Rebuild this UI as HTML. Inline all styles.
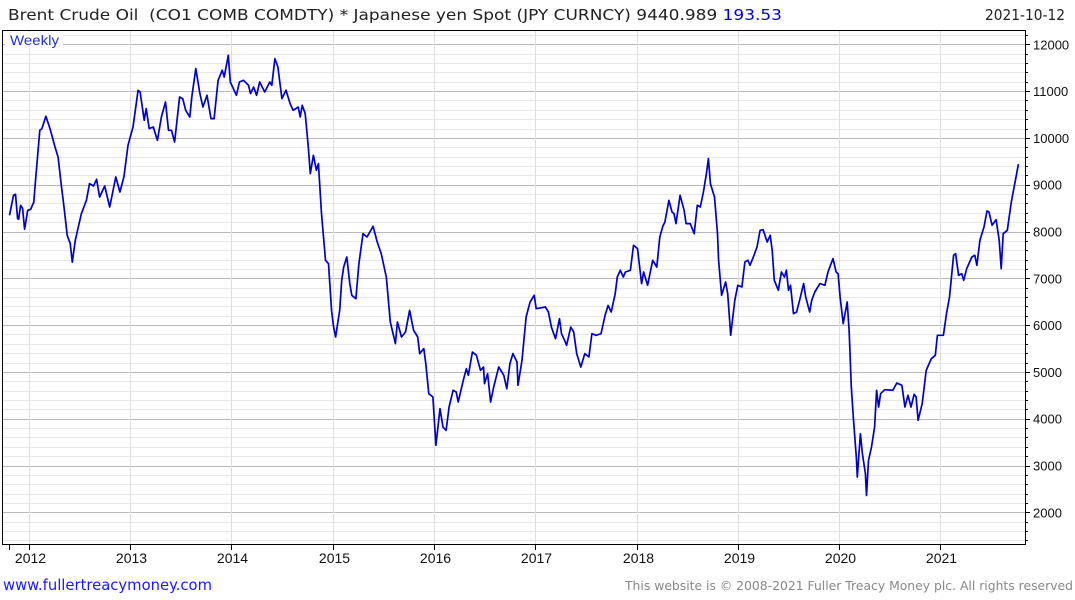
<!DOCTYPE html>
<html><head><meta charset="utf-8"><style>
body{margin:0;background:#fff;font-family:"Liberation Sans",sans-serif;}
#wrap{position:relative;width:1075px;height:600px;overflow:hidden;}
</style></head><body>
<div id="wrap">
<svg id="chart" width="1075" height="600" xmlns="http://www.w3.org/2000/svg">
<g id="grid"></g>
<rect x="2.5" y="30.5" width="1023" height="514" fill="none" stroke="#000" stroke-width="1"/>
<g id="axes"></g>
<path id="line" fill="none" stroke="#0000cc" stroke-width="1.7" stroke-linejoin="round"/>
<rect x="5" y="32" width="58" height="16" fill="#fff"/>
<text x="10" y="45" font-size="14" fill="#2233cc" textLength="49" lengthAdjust="spacingAndGlyphs">Weekly</text>
<text x="8" y="20" font-size="15.5" fill="#222" font-family="DejaVu Sans, sans-serif" textLength="774" lengthAdjust="spacingAndGlyphs" xml:space="preserve">Brent Crude Oil  (CO1 COMB COMDTY) * Japanese yen Spot (JPY CURNCY) 9440.989 <tspan fill="#0000dd">193.53</tspan></text>
<text x="985" y="20" font-size="15" fill="#222" font-family="DejaVu Sans, sans-serif" textLength="80" lengthAdjust="spacingAndGlyphs">2021-10-12</text>
<text x="3" y="590" font-size="15" fill="#1a1aff" font-family="DejaVu Sans, sans-serif" textLength="209" lengthAdjust="spacingAndGlyphs">www.fullertreacymoney.com</text>
<text x="625" y="590" font-size="12.5" fill="#888" font-family="DejaVu Sans, sans-serif" textLength="448" lengthAdjust="spacingAndGlyphs">This website is © 2008-2021 Fuller Treacy Money plc. All rights reserved</text>
</svg>
</div>
<script>
const dates=[2011.81,2011.85,2011.87,2011.89,2011.90,2011.92,2011.94,2011.96,2011.99,2012.02,2012.05,2012.07,2012.11,2012.13,2012.17,2012.21,2012.26,2012.29,2012.32,2012.35,2012.38,2012.41,2012.43,2012.46,2012.49,2012.52,2012.57,2012.60,2012.64,2012.67,2012.70,2012.75,2012.80,2012.86,2012.90,2012.94,2012.98,2013.03,2013.08,2013.10,2013.14,2013.16,2013.19,2013.23,2013.27,2013.31,2013.35,2013.38,2013.41,2013.44,2013.49,2013.52,2013.55,2013.59,2013.61,2013.65,2013.69,2013.72,2013.76,2013.80,2013.83,2013.87,2013.91,2013.93,2013.97,2013.99,2014.05,2014.08,2014.12,2014.17,2014.19,2014.22,2014.25,2014.28,2014.33,2014.38,2014.40,2014.43,2014.46,2014.50,2014.54,2014.58,2014.61,2014.66,2014.68,2014.70,2014.73,2014.76,2014.78,2014.81,2014.84,2014.86,2014.89,2014.93,2014.96,2014.99,2015.01,2015.03,2015.07,2015.09,2015.11,2015.14,2015.17,2015.19,2015.23,2015.26,2015.30,2015.34,2015.40,2015.44,2015.48,2015.53,2015.57,2015.62,2015.64,2015.68,2015.72,2015.76,2015.80,2015.84,2015.86,2015.90,2015.92,2015.95,2015.99,2016.02,2016.06,2016.09,2016.12,2016.15,2016.19,2016.22,2016.24,2016.29,2016.32,2016.34,2016.38,2016.42,2016.46,2016.49,2016.50,2016.53,2016.56,2016.59,2016.64,2016.69,2016.72,2016.75,2016.78,2016.82,2016.83,2016.87,2016.91,2016.95,2016.99,2017.01,2017.10,2017.13,2017.16,2017.20,2017.24,2017.26,2017.29,2017.31,2017.35,2017.38,2017.41,2017.45,2017.49,2017.53,2017.56,2017.60,2017.65,2017.69,2017.72,2017.75,2017.79,2017.81,2017.84,2017.87,2017.89,2017.94,2017.97,2018.01,2018.05,2018.07,2018.11,2018.16,2018.20,2018.23,2018.26,2018.28,2018.32,2018.35,2018.37,2018.39,2018.43,2018.47,2018.49,2018.53,2018.57,2018.60,2018.63,2018.66,2018.69,2018.71,2018.73,2018.77,2018.80,2018.81,2018.84,2018.88,2018.90,2018.93,2018.97,2019.00,2019.04,2019.07,2019.10,2019.12,2019.16,2019.19,2019.22,2019.25,2019.29,2019.32,2019.34,2019.36,2019.40,2019.43,2019.46,2019.48,2019.50,2019.52,2019.55,2019.58,2019.61,2019.65,2019.67,2019.71,2019.73,2019.76,2019.81,2019.86,2019.89,2019.94,2019.97,2019.99,2020.01,2020.04,2020.08,2020.10,2020.12,2020.14,2020.17,2020.18,2020.21,2020.23,2020.26,2020.27,2020.29,2020.32,2020.35,2020.37,2020.39,2020.41,2020.45,2020.53,2020.57,2020.62,2020.65,2020.68,2020.71,2020.74,2020.76,2020.78,2020.82,2020.86,2020.91,2020.95,2020.97,2021.03,2021.06,2021.09,2021.13,2021.15,2021.18,2021.21,2021.23,2021.26,2021.31,2021.34,2021.36,2021.39,2021.43,2021.46,2021.48,2021.51,2021.55,2021.58,2021.60,2021.62,2021.66,2021.70,2021.74,2021.77];
const values=[8346,8773,8795,8275,8260,8560,8489,8047,8453,8474,8630,9164,10162,10198,10461,10198,9806,9590,9023,8489,7918,7741,7347,7811,8096,8382,8666,9023,8972,9115,8737,8972,8523,9164,8843,9164,9842,10233,11017,10981,10376,10626,10198,10233,9948,10446,10767,10162,10162,9912,10874,10840,10590,10446,10874,11481,10946,10660,10910,10412,10412,11231,11444,11302,11765,11194,10910,11194,11231,11124,10946,11088,10910,11194,10981,11194,11124,11694,11515,10840,11017,10733,10590,10660,10446,10696,10519,9806,9237,9628,9307,9450,8382,7384,7313,6300,5958,5745,6316,6957,7241,7455,6886,6636,6565,7313,7954,7882,8111,7775,7527,7027,6066,5604,6066,5745,5852,6316,5888,5745,5390,5497,5176,4535,4463,3431,4215,3821,3751,4249,4606,4570,4356,4820,5069,4927,5424,5354,5033,5104,4749,4962,4356,4677,5104,4927,4642,5176,5390,5211,4713,5247,6173,6493,6636,6351,6386,6279,5958,5710,6137,5817,5675,5568,5958,5852,5390,5104,5390,5318,5817,5781,5817,6209,6422,6279,6672,7027,7170,7027,7134,7170,7705,7634,6886,7134,6850,7384,7241,7882,8111,8203,8666,8416,8382,8168,8773,8453,8168,8168,7954,8559,8523,8843,9237,9557,9023,8737,7954,7384,6636,6921,6672,5781,6529,6850,6814,7348,7384,7277,7491,7669,8025,8039,7775,7918,7598,6957,6743,7134,7027,7170,6743,6850,6245,6279,6529,6886,6601,6279,6529,6707,6886,6850,7134,7420,7134,7099,6601,6031,6493,5852,4677,4036,3181,2754,3680,3253,2826,2362,3110,3395,3823,4606,4249,4535,4620,4606,4763,4713,4249,4499,4249,4520,4463,3965,4322,5033,5283,5354,5781,5781,6245,6601,7491,7527,7063,7099,6957,7206,7455,7491,7277,7812,8096,8438,8417,8132,8254,7812,7206,7954,8025,8630,9094,9441];
const yearTicks=[2012,2013,2014,2015,2016,2017,2018,2019,2020,2021];
const yTickLabels=[2000,3000,4000,5000,6000,7000,8000,9000,10000,11000,12000];

const NS="http://www.w3.org/2000/svg";
function xs(t){return 28.7+(t-2012)*101.3;}
function ys(v){return 44.3+(12000-v)*0.0468;}
const grid=document.getElementById('grid'),axes=document.getElementById('axes');
function mk(tag,attrs,parent){const e=document.createElementNS(NS,tag);for(const k in attrs)e.setAttribute(k,attrs[k]);parent.appendChild(e);return e;}
for(let v=1400;v<=12200;v+=200){
  const y=Math.round(ys(v))+0.5;
  if(y<31||y>544)continue;
  const major=v%1000===0;
  const l=mk('line',{x1:3,x2:1025,y1:y,y2:y,stroke:major?'#b9b9b9':'#e8e8e8','stroke-width':1},grid);
  
  
  const t=mk('line',{x1:1025,x2:major?1030:1028,y1:y,y2:y,stroke:'#000','stroke-width':1},axes);
  
  
}
yTickLabels.forEach(v=>{
  const t=mk('text',{x:1033,y:ys(v)+5,'font-size':13,fill:'#111'},axes);
  t.textContent=v;
  
  
});
yearTicks.forEach(yr=>{
  const x=Math.round(xs(yr))+0.5;
  const g=mk('line',{x1:x,x2:x,y1:31,y2:544,stroke:'#dedede','stroke-width':1},grid);
  
  
  const tk=mk('line',{x1:x,x2:x,y1:544,y2:550,stroke:'#000','stroke-width':1},axes);
  
  
  const lb=mk('text',{x:x+1,y:563,'font-size':14,fill:'#111','text-anchor':'middle'},axes);
  lb.textContent=yr;
  
  
});
const st=mk('line',{x1:9.5,x2:9.5,y1:544,y2:550,stroke:'#000'},axes);


let d='';
dates.forEach((t,i)=>{d+=(i?'L':'M')+xs(t).toFixed(1)+','+ys(values[i]).toFixed(1);});
document.getElementById('line').setAttribute('d',d);
</script>
</body></html>
